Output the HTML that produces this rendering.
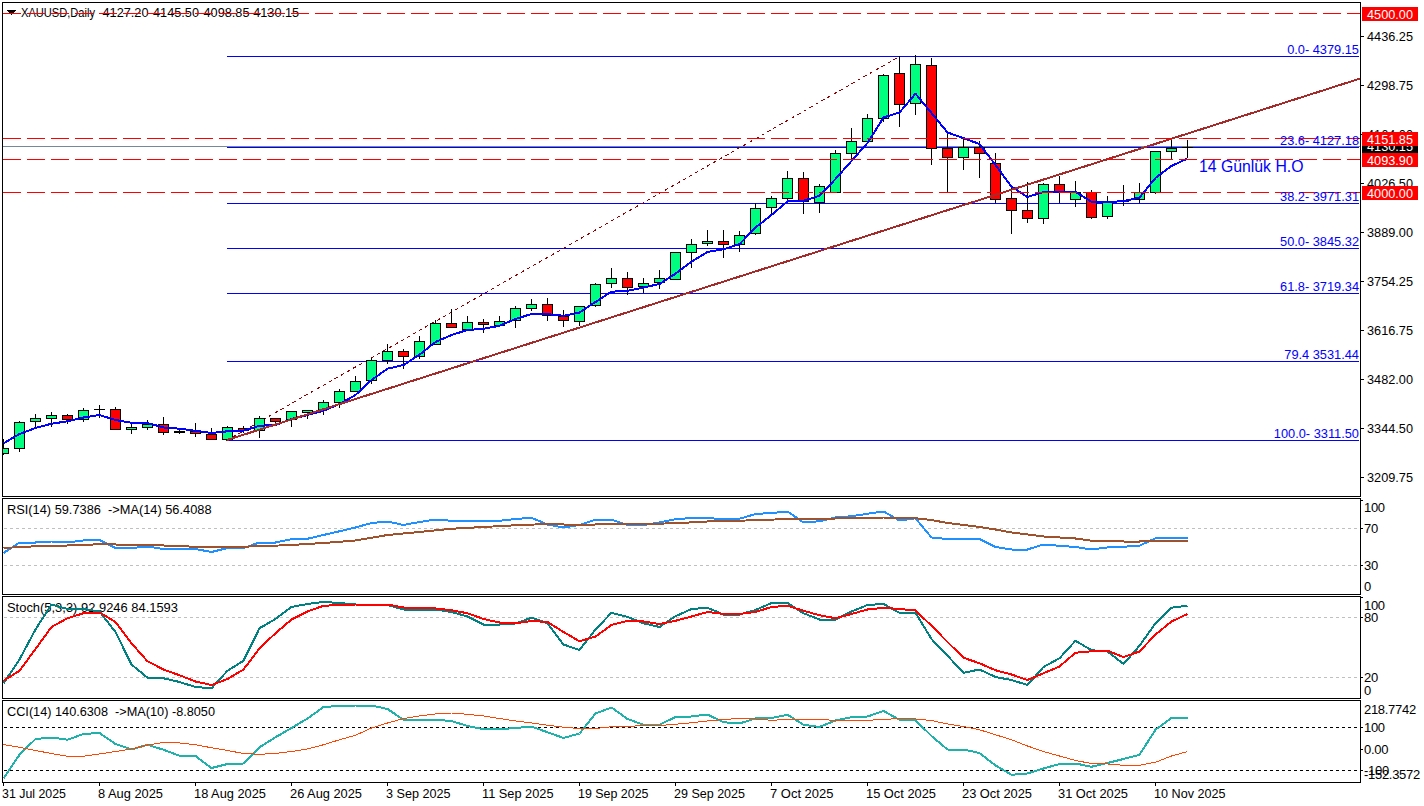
<!DOCTYPE html><html><head><meta charset="utf-8"><title>XAUUSD Daily</title>
<style>html,body{margin:0;padding:0;background:#fff;overflow:hidden}svg{display:block}text{font-family:"Liberation Sans",sans-serif;font-size:13px;fill:#000}.fib{font-size:12.8px;fill:#0000ff}.w{fill:#fff}.big{font-size:15.8px;fill:#0000ff}</style></head><body>
<svg width="1424" height="806" viewBox="0 0 1424 806">
<rect width="1424" height="806" fill="#fff"/>
<defs><clipPath id="cp"><rect x="3" y="0" width="1357" height="806"/></clipPath></defs>
<g shape-rendering="crispEdges">
<g clip-path="url(#cp)">
<path d="M6 10 L16 10 L11 15 Z" fill="#000"/>
<text x="21" y="17" xml:space="preserve" textLength="74" lengthAdjust="spacingAndGlyphs">XAUUSD,Daily</text>
<text x="102.5" y="17" xml:space="preserve" textLength="46" lengthAdjust="spacingAndGlyphs">4127.20</text>
<text x="153" y="17" xml:space="preserve" textLength="46" lengthAdjust="spacingAndGlyphs">4145.50</text>
<text x="203.5" y="17" xml:space="preserve" textLength="46" lengthAdjust="spacingAndGlyphs">4098.85</text>
<text x="253.2" y="17" xml:space="preserve" textLength="46" lengthAdjust="spacingAndGlyphs">4130.15</text>
<text x="7" y="514" xml:space="preserve" textLength="204.5" lengthAdjust="spacingAndGlyphs">RSI(14) 59.7386  -&gt;MA(14) 56.4088</text>
<text x="7" y="612" xml:space="preserve" textLength="171" lengthAdjust="spacingAndGlyphs">Stoch(5,3,3) 92.9246 84.1593</text>
<text x="7" y="716" xml:space="preserve" textLength="208" lengthAdjust="spacingAndGlyphs">CCI(14) 140.6308  -&gt;MA(10) -8.8050</text>
<line x1="227" y1="56.5" x2="1359" y2="56.5" stroke="#0000ff" stroke-width="1"/>
<line x1="227" y1="147.5" x2="1359" y2="147.5" stroke="#0000ff" stroke-width="1"/>
<line x1="227" y1="203.5" x2="1359" y2="203.5" stroke="#0000ff" stroke-width="1"/>
<line x1="227" y1="248.5" x2="1359" y2="248.5" stroke="#0000ff" stroke-width="1"/>
<line x1="227" y1="293.5" x2="1359" y2="293.5" stroke="#0000ff" stroke-width="1"/>
<line x1="227" y1="361.5" x2="1359" y2="361.5" stroke="#0000ff" stroke-width="1"/>
<line x1="227" y1="440.5" x2="1359" y2="440.5" stroke="#0000ff" stroke-width="1"/>
<line x1="3" y1="146.5" x2="1360" y2="146.5" stroke="#778899" stroke-width="1"/>
<line x1="226.5" y1="440.57" x2="899.5" y2="56.5" stroke="#900000" stroke-width="1" stroke-dasharray="3.46 3.46"/>
<rect x="3" y="439" width="1" height="16" fill="#000"/>
<rect x="-2" y="448" width="11" height="6" fill="#000"/>
<rect x="-1" y="449" width="9" height="4" fill="#00ff7f"/>
<rect x="19" y="421" width="1" height="31" fill="#000"/>
<rect x="14" y="422" width="11" height="27" fill="#000"/>
<rect x="15" y="423" width="9" height="25" fill="#00ff7f"/>
<rect x="35" y="414" width="1" height="13" fill="#000"/>
<rect x="30" y="418" width="11" height="4" fill="#000"/>
<rect x="31" y="419" width="9" height="2" fill="#00ff7f"/>
<rect x="51" y="412" width="1" height="15" fill="#000"/>
<rect x="46" y="415" width="11" height="4" fill="#000"/>
<rect x="47" y="416" width="9" height="2" fill="#00ff7f"/>
<rect x="67" y="414" width="1" height="10" fill="#000"/>
<rect x="62" y="415" width="11" height="5" fill="#000"/>
<rect x="63" y="416" width="9" height="3" fill="#ff0000"/>
<rect x="83" y="408" width="1" height="14" fill="#000"/>
<rect x="78" y="410" width="11" height="10" fill="#000"/>
<rect x="79" y="411" width="9" height="8" fill="#00ff7f"/>
<rect x="99" y="405" width="1" height="13" fill="#000"/>
<rect x="94" y="409" width="11" height="1" fill="#000"/>
<rect x="115" y="407" width="1" height="23" fill="#000"/>
<rect x="110" y="409" width="11" height="21" fill="#000"/>
<rect x="111" y="410" width="9" height="19" fill="#ff0000"/>
<rect x="131" y="424" width="1" height="10" fill="#000"/>
<rect x="126" y="427" width="11" height="3" fill="#000"/>
<rect x="127" y="428" width="9" height="1" fill="#00ff7f"/>
<rect x="147" y="420" width="1" height="10" fill="#000"/>
<rect x="142" y="424" width="11" height="4" fill="#000"/>
<rect x="143" y="425" width="9" height="2" fill="#00ff7f"/>
<rect x="163" y="417" width="1" height="18" fill="#000"/>
<rect x="158" y="424" width="11" height="9" fill="#000"/>
<rect x="159" y="425" width="9" height="7" fill="#ff0000"/>
<rect x="179" y="430" width="1" height="4" fill="#000"/>
<rect x="174" y="431" width="11" height="2" fill="#000"/>
<rect x="195" y="423" width="1" height="14" fill="#000"/>
<rect x="190" y="431" width="11" height="3" fill="#000"/>
<rect x="191" y="432" width="9" height="1" fill="#ff0000"/>
<rect x="211" y="428" width="1" height="12" fill="#000"/>
<rect x="206" y="434" width="11" height="6" fill="#000"/>
<rect x="207" y="435" width="9" height="4" fill="#ff0000"/>
<rect x="227" y="426" width="1" height="14" fill="#000"/>
<rect x="222" y="427" width="11" height="13" fill="#000"/>
<rect x="223" y="428" width="9" height="11" fill="#00ff7f"/>
<rect x="243" y="426" width="1" height="7" fill="#000"/>
<rect x="238" y="428" width="11" height="3" fill="#000"/>
<rect x="239" y="429" width="9" height="1" fill="#ff0000"/>
<rect x="259" y="416" width="1" height="22" fill="#000"/>
<rect x="254" y="418" width="11" height="13" fill="#000"/>
<rect x="255" y="419" width="9" height="11" fill="#00ff7f"/>
<rect x="275" y="418" width="1" height="6" fill="#000"/>
<rect x="270" y="418" width="11" height="4" fill="#000"/>
<rect x="271" y="419" width="9" height="2" fill="#ff0000"/>
<rect x="291" y="411" width="1" height="16" fill="#000"/>
<rect x="286" y="411" width="11" height="9" fill="#000"/>
<rect x="287" y="412" width="9" height="7" fill="#00ff7f"/>
<rect x="307" y="410" width="1" height="9" fill="#000"/>
<rect x="302" y="410" width="11" height="3" fill="#000"/>
<rect x="303" y="411" width="9" height="1" fill="#00ff7f"/>
<rect x="323" y="400" width="1" height="15" fill="#000"/>
<rect x="318" y="402" width="11" height="8" fill="#000"/>
<rect x="319" y="403" width="9" height="6" fill="#00ff7f"/>
<rect x="339" y="389" width="1" height="19" fill="#000"/>
<rect x="334" y="391" width="11" height="12" fill="#000"/>
<rect x="335" y="392" width="9" height="10" fill="#00ff7f"/>
<rect x="355" y="376" width="1" height="16" fill="#000"/>
<rect x="350" y="381" width="11" height="11" fill="#000"/>
<rect x="351" y="382" width="9" height="9" fill="#00ff7f"/>
<rect x="371" y="358" width="1" height="26" fill="#000"/>
<rect x="366" y="360" width="11" height="21" fill="#000"/>
<rect x="367" y="361" width="9" height="19" fill="#00ff7f"/>
<rect x="387" y="344" width="1" height="20" fill="#000"/>
<rect x="382" y="351" width="11" height="10" fill="#000"/>
<rect x="383" y="352" width="9" height="8" fill="#00ff7f"/>
<rect x="403" y="349" width="1" height="20" fill="#000"/>
<rect x="398" y="351" width="11" height="6" fill="#000"/>
<rect x="399" y="352" width="9" height="4" fill="#ff0000"/>
<rect x="419" y="336" width="1" height="23" fill="#000"/>
<rect x="414" y="341" width="11" height="16" fill="#000"/>
<rect x="415" y="342" width="9" height="14" fill="#00ff7f"/>
<rect x="435" y="320" width="1" height="25" fill="#000"/>
<rect x="430" y="323" width="11" height="22" fill="#000"/>
<rect x="431" y="324" width="9" height="20" fill="#00ff7f"/>
<rect x="451" y="309" width="1" height="19" fill="#000"/>
<rect x="446" y="323" width="11" height="5" fill="#000"/>
<rect x="447" y="324" width="9" height="3" fill="#ff0000"/>
<rect x="467" y="316" width="1" height="14" fill="#000"/>
<rect x="462" y="322" width="11" height="8" fill="#000"/>
<rect x="463" y="323" width="9" height="6" fill="#00ff7f"/>
<rect x="483" y="319" width="1" height="14" fill="#000"/>
<rect x="478" y="322" width="11" height="3" fill="#000"/>
<rect x="479" y="323" width="9" height="1" fill="#ff0000"/>
<rect x="499" y="316" width="1" height="10" fill="#000"/>
<rect x="494" y="321" width="11" height="5" fill="#000"/>
<rect x="495" y="322" width="9" height="3" fill="#00ff7f"/>
<rect x="515" y="306" width="1" height="22" fill="#000"/>
<rect x="510" y="308" width="11" height="13" fill="#000"/>
<rect x="511" y="309" width="9" height="11" fill="#00ff7f"/>
<rect x="531" y="299" width="1" height="12" fill="#000"/>
<rect x="526" y="304" width="11" height="5" fill="#000"/>
<rect x="527" y="305" width="9" height="3" fill="#00ff7f"/>
<rect x="547" y="298" width="1" height="23" fill="#000"/>
<rect x="542" y="304" width="11" height="12" fill="#000"/>
<rect x="543" y="305" width="9" height="10" fill="#ff0000"/>
<rect x="563" y="310" width="1" height="17" fill="#000"/>
<rect x="558" y="316" width="11" height="5" fill="#000"/>
<rect x="559" y="317" width="9" height="3" fill="#ff0000"/>
<rect x="579" y="306" width="1" height="20" fill="#000"/>
<rect x="574" y="306" width="11" height="16" fill="#000"/>
<rect x="575" y="307" width="9" height="14" fill="#00ff7f"/>
<rect x="595" y="283" width="1" height="24" fill="#000"/>
<rect x="590" y="284" width="11" height="22" fill="#000"/>
<rect x="591" y="285" width="9" height="20" fill="#00ff7f"/>
<rect x="611" y="268" width="1" height="20" fill="#000"/>
<rect x="606" y="278" width="11" height="6" fill="#000"/>
<rect x="607" y="279" width="9" height="4" fill="#00ff7f"/>
<rect x="627" y="272" width="1" height="23" fill="#000"/>
<rect x="622" y="278" width="11" height="10" fill="#000"/>
<rect x="623" y="279" width="9" height="8" fill="#ff0000"/>
<rect x="643" y="278" width="1" height="15" fill="#000"/>
<rect x="638" y="283" width="11" height="4" fill="#000"/>
<rect x="639" y="284" width="9" height="2" fill="#00ff7f"/>
<rect x="659" y="270" width="1" height="19" fill="#000"/>
<rect x="654" y="278" width="11" height="5" fill="#000"/>
<rect x="655" y="279" width="9" height="3" fill="#00ff7f"/>
<rect x="675" y="252" width="1" height="28" fill="#000"/>
<rect x="670" y="252" width="11" height="28" fill="#000"/>
<rect x="671" y="253" width="9" height="26" fill="#00ff7f"/>
<rect x="691" y="239" width="1" height="29" fill="#000"/>
<rect x="686" y="244" width="11" height="9" fill="#000"/>
<rect x="687" y="245" width="9" height="7" fill="#00ff7f"/>
<rect x="707" y="230" width="1" height="16" fill="#000"/>
<rect x="702" y="241" width="11" height="3" fill="#000"/>
<rect x="703" y="242" width="9" height="1" fill="#00ff7f"/>
<rect x="723" y="230" width="1" height="28" fill="#000"/>
<rect x="718" y="241" width="11" height="4" fill="#000"/>
<rect x="719" y="242" width="9" height="2" fill="#ff0000"/>
<rect x="739" y="231" width="1" height="21" fill="#000"/>
<rect x="734" y="235" width="11" height="10" fill="#000"/>
<rect x="735" y="236" width="9" height="8" fill="#00ff7f"/>
<rect x="755" y="203" width="1" height="32" fill="#000"/>
<rect x="750" y="208" width="11" height="26" fill="#000"/>
<rect x="751" y="209" width="9" height="24" fill="#00ff7f"/>
<rect x="771" y="196" width="1" height="19" fill="#000"/>
<rect x="766" y="198" width="11" height="10" fill="#000"/>
<rect x="767" y="199" width="9" height="8" fill="#00ff7f"/>
<rect x="787" y="171" width="1" height="29" fill="#000"/>
<rect x="782" y="178" width="11" height="21" fill="#000"/>
<rect x="783" y="179" width="9" height="19" fill="#00ff7f"/>
<rect x="803" y="172" width="1" height="42" fill="#000"/>
<rect x="798" y="178" width="11" height="24" fill="#000"/>
<rect x="799" y="179" width="9" height="22" fill="#ff0000"/>
<rect x="819" y="184" width="1" height="29" fill="#000"/>
<rect x="814" y="186" width="11" height="17" fill="#000"/>
<rect x="815" y="187" width="9" height="15" fill="#00ff7f"/>
<rect x="835" y="150" width="1" height="43" fill="#000"/>
<rect x="830" y="153" width="11" height="40" fill="#000"/>
<rect x="831" y="154" width="9" height="38" fill="#00ff7f"/>
<rect x="851" y="128" width="1" height="33" fill="#000"/>
<rect x="846" y="141" width="11" height="13" fill="#000"/>
<rect x="847" y="142" width="9" height="11" fill="#00ff7f"/>
<rect x="867" y="114" width="1" height="28" fill="#000"/>
<rect x="862" y="118" width="11" height="24" fill="#000"/>
<rect x="863" y="119" width="9" height="22" fill="#00ff7f"/>
<rect x="883" y="74" width="1" height="48" fill="#000"/>
<rect x="878" y="75" width="11" height="44" fill="#000"/>
<rect x="879" y="76" width="9" height="42" fill="#00ff7f"/>
<rect x="899" y="56" width="1" height="71" fill="#000"/>
<rect x="894" y="73" width="11" height="32" fill="#000"/>
<rect x="895" y="74" width="9" height="30" fill="#ff0000"/>
<rect x="915" y="55" width="1" height="60" fill="#000"/>
<rect x="910" y="64" width="11" height="40" fill="#000"/>
<rect x="911" y="65" width="9" height="38" fill="#00ff7f"/>
<rect x="931" y="58" width="1" height="107" fill="#000"/>
<rect x="926" y="65" width="11" height="84" fill="#000"/>
<rect x="927" y="66" width="9" height="82" fill="#ff0000"/>
<rect x="947" y="133" width="1" height="59" fill="#000"/>
<rect x="942" y="148" width="11" height="10" fill="#000"/>
<rect x="943" y="149" width="9" height="8" fill="#ff0000"/>
<rect x="963" y="138" width="1" height="32" fill="#000"/>
<rect x="958" y="147" width="11" height="11" fill="#000"/>
<rect x="959" y="148" width="9" height="9" fill="#00ff7f"/>
<rect x="979" y="141" width="1" height="37" fill="#000"/>
<rect x="974" y="147" width="11" height="7" fill="#000"/>
<rect x="975" y="148" width="9" height="5" fill="#ff0000"/>
<rect x="995" y="153" width="1" height="50" fill="#000"/>
<rect x="990" y="163" width="11" height="37" fill="#000"/>
<rect x="991" y="164" width="9" height="35" fill="#ff0000"/>
<rect x="1011" y="186" width="1" height="48" fill="#000"/>
<rect x="1006" y="198" width="11" height="13" fill="#000"/>
<rect x="1007" y="199" width="9" height="11" fill="#ff0000"/>
<rect x="1027" y="182" width="1" height="41" fill="#000"/>
<rect x="1022" y="210" width="11" height="9" fill="#000"/>
<rect x="1023" y="211" width="9" height="7" fill="#ff0000"/>
<rect x="1043" y="183" width="1" height="41" fill="#000"/>
<rect x="1038" y="184" width="11" height="35" fill="#000"/>
<rect x="1039" y="185" width="9" height="33" fill="#00ff7f"/>
<rect x="1059" y="176" width="1" height="27" fill="#000"/>
<rect x="1054" y="184" width="11" height="8" fill="#000"/>
<rect x="1055" y="185" width="9" height="6" fill="#ff0000"/>
<rect x="1075" y="181" width="1" height="26" fill="#000"/>
<rect x="1070" y="192" width="11" height="8" fill="#000"/>
<rect x="1071" y="193" width="9" height="6" fill="#00ff7f"/>
<rect x="1091" y="190" width="1" height="29" fill="#000"/>
<rect x="1086" y="192" width="11" height="26" fill="#000"/>
<rect x="1087" y="193" width="9" height="24" fill="#ff0000"/>
<rect x="1107" y="196" width="1" height="23" fill="#000"/>
<rect x="1102" y="201" width="11" height="16" fill="#000"/>
<rect x="1103" y="202" width="9" height="14" fill="#00ff7f"/>
<rect x="1123" y="185" width="1" height="21" fill="#000"/>
<rect x="1118" y="201" width="11" height="1" fill="#000"/>
<rect x="1139" y="183" width="1" height="20" fill="#000"/>
<rect x="1134" y="192" width="11" height="8" fill="#000"/>
<rect x="1135" y="193" width="9" height="6" fill="#00ff7f"/>
<rect x="1155" y="151" width="1" height="43" fill="#000"/>
<rect x="1150" y="151" width="11" height="42" fill="#000"/>
<rect x="1151" y="152" width="9" height="40" fill="#00ff7f"/>
<rect x="1171" y="138" width="1" height="21" fill="#000"/>
<rect x="1166" y="148" width="11" height="4" fill="#000"/>
<rect x="1167" y="149" width="9" height="2" fill="#00ff7f"/>
<rect x="1187" y="140" width="1" height="18" fill="#000"/>
<rect x="1182" y="147" width="11" height="1" fill="#000"/>
<polyline points="3.5,443.30 19.5,434.00 35.5,428.00 51.5,423.70 67.5,421.30 83.5,417.50 99.5,415.00 115.5,420.00 131.5,422.80 147.5,423.00 163.5,427.50 179.5,428.70 195.5,430.80 211.5,433.00 227.5,431.30 243.5,430.70 259.5,425.80 275.5,425.00 291.5,419.00 307.5,415.00 323.5,410.80 339.5,404.00 355.5,395.00 371.5,380.00 387.5,368.70 403.5,365.00 419.5,354.70 435.5,342.00 451.5,335.00 467.5,330.00 483.5,328.80 499.5,325.80 515.5,319.00 531.5,314.00 547.5,314.20 563.5,315.80 579.5,312.50 595.5,302.00 611.5,291.70 627.5,290.80 643.5,287.50 659.5,284.00 675.5,273.70 691.5,261.70 707.5,252.00 723.5,249.20 739.5,244.20 755.5,227.50 771.5,215.00 787.5,201.30 803.5,200.80 819.5,195.80 835.5,179.00 851.5,161.00 867.5,143.00 883.5,117.50 899.5,112.50 915.5,93.70 931.5,113.00 947.5,132.50 963.5,138.20 979.5,144.00 995.5,165.00 1011.5,186.70 1027.5,197.00 1043.5,192.00 1059.5,192.00 1075.5,192.00 1091.5,201.70 1107.5,202.00 1123.5,201.20 1139.5,197.50 1155.5,178.00 1171.5,166.00 1187.5,158.50" fill="none" stroke="#0000ff" stroke-width="2" stroke-linejoin="bevel"/>
<line x1="227" y1="440" x2="1360" y2="78.6" stroke="#a52a2a" stroke-width="2"/>
<line x1="3" y1="13.5" x2="1360" y2="13.5" stroke="#ff0000" stroke-width="1" stroke-dasharray="18 6"/>
<line x1="3" y1="138.5" x2="1360" y2="138.5" stroke="#ff0000" stroke-width="1" stroke-dasharray="18 6"/>
<line x1="3" y1="159.5" x2="1360" y2="159.5" stroke="#ff0000" stroke-width="1" stroke-dasharray="18 6"/>
<line x1="3" y1="192.5" x2="1360" y2="192.5" stroke="#ff0000" stroke-width="1" stroke-dasharray="18 6"/>
<line x1="4" y1="528.5" x2="1360" y2="528.5" stroke="#c0c0c0" stroke-width="1" stroke-dasharray="3 3"/>
<line x1="4" y1="565.5" x2="1360" y2="565.5" stroke="#c0c0c0" stroke-width="1" stroke-dasharray="3 3"/>
<line x1="4" y1="617.5" x2="1360" y2="617.5" stroke="#c0c0c0" stroke-width="1" stroke-dasharray="3 3"/>
<line x1="4" y1="677.5" x2="1360" y2="677.5" stroke="#c0c0c0" stroke-width="1" stroke-dasharray="3 3"/>
<line x1="4" y1="727.5" x2="1360" y2="727.5" stroke="#000" stroke-width="1" stroke-dasharray="3 3"/>
<line x1="4" y1="770.5" x2="1360" y2="770.5" stroke="#000" stroke-width="1" stroke-dasharray="3 3"/>
<polyline points="3.5,553.00 19.5,542.50 35.5,542.50 51.5,541.50 67.5,542.50 83.5,540.50 99.5,540.00 115.5,548.00 131.5,548.00 147.5,546.50 163.5,549.00 179.5,549.00 195.5,549.00 211.5,552.00 227.5,548.00 243.5,548.00 259.5,542.50 275.5,542.50 291.5,539.25 307.5,538.75 323.5,535.00 339.5,531.25 355.5,527.50 371.5,523.00 387.5,521.50 403.5,525.00 419.5,522.00 435.5,519.50 451.5,520.75 467.5,520.75 483.5,520.75 499.5,520.75 515.5,519.00 531.5,517.75 547.5,524.50 563.5,527.50 579.5,525.00 595.5,519.75 611.5,519.75 627.5,525.00 643.5,525.00 659.5,522.50 675.5,519.25 691.5,518.00 707.5,518.00 723.5,519.25 739.5,518.75 755.5,514.00 771.5,513.00 787.5,511.50 803.5,522.50 819.5,521.25 835.5,517.50 851.5,516.25 867.5,513.75 883.5,511.50 899.5,520.50 915.5,518.25 931.5,537.50 947.5,539.00 963.5,539.00 979.5,539.00 995.5,547.00 1011.5,549.50 1027.5,549.50 1043.5,544.50 1059.5,545.75 1075.5,547.00 1091.5,549.50 1107.5,547.50 1123.5,546.75 1139.5,545.75 1155.5,538.25 1171.5,538.25 1187.5,538.25" fill="none" stroke="#1e90ff" stroke-width="2" stroke-linejoin="bevel"/>
<polyline points="3.5,548.00 35.5,546.25 67.5,545.50 99.5,544.25 131.5,544.75 163.5,545.50 195.5,546.75 227.5,547.00 259.5,546.25 291.5,545.00 323.5,543.00 355.5,540.50 387.5,535.00 419.5,532.00 451.5,528.75 483.5,527.00 515.5,525.25 547.5,524.00 579.5,525.00 611.5,524.00 643.5,524.00 675.5,523.25 707.5,521.50 755.5,520.25 787.5,519.00 819.5,519.00 851.5,518.00 883.5,517.50 915.5,518.25 931.5,520.00 947.5,523.00 963.5,525.00 979.5,527.00 995.5,529.50 1011.5,532.50 1027.5,534.50 1043.5,536.50 1059.5,537.50 1075.5,538.50 1091.5,540.75 1107.5,540.75 1123.5,541.50 1139.5,541.50 1155.5,540.75 1171.5,540.75 1187.5,540.75" fill="none" stroke="#a0522d" stroke-width="2" stroke-linejoin="bevel"/>
<polyline points="3.5,683.25 19.5,659.50 35.5,629.50 51.5,604.50 67.5,609.00 83.5,609.00 99.5,611.50 115.5,632.00 131.5,664.50 147.5,677.75 163.5,678.25 179.5,682.00 195.5,687.00 211.5,688.25 227.5,670.75 243.5,660.75 259.5,628.25 275.5,619.00 291.5,607.00 307.5,604.00 323.5,602.00 339.5,603.00 355.5,604.50 371.5,604.50 387.5,605.00 403.5,609.50 419.5,609.50 435.5,609.50 451.5,612.00 467.5,616.50 483.5,624.50 499.5,624.50 515.5,623.50 531.5,617.75 547.5,623.25 563.5,644.50 579.5,650.00 595.5,629.50 611.5,612.75 627.5,617.00 643.5,623.25 659.5,627.00 675.5,616.25 691.5,609.00 707.5,607.75 723.5,614.50 739.5,614.50 755.5,610.00 771.5,603.00 787.5,603.00 803.5,613.25 819.5,619.50 835.5,619.50 851.5,611.50 867.5,605.00 883.5,604.00 899.5,612.75 915.5,612.75 931.5,639.00 947.5,655.75 963.5,672.75 979.5,669.50 995.5,677.00 1011.5,680.00 1027.5,685.00 1043.5,667.00 1059.5,658.25 1075.5,640.75 1091.5,650.25 1107.5,651.50 1123.5,664.00 1139.5,645.75 1155.5,623.25 1171.5,607.75 1187.5,605.75" fill="none" stroke="#008080" stroke-width="2" stroke-linejoin="bevel"/>
<polyline points="3.5,680.75 19.5,670.75 35.5,649.00 51.5,627.00 67.5,618.25 83.5,613.25 99.5,612.50 115.5,622.00 131.5,643.25 147.5,661.25 163.5,669.50 179.5,675.25 195.5,681.50 211.5,685.00 227.5,679.00 243.5,669.50 259.5,648.25 275.5,633.25 291.5,619.50 307.5,611.50 323.5,605.75 339.5,605.00 355.5,604.50 371.5,604.50 387.5,604.50 403.5,607.50 419.5,608.00 435.5,608.50 451.5,610.25 467.5,613.25 483.5,619.00 499.5,622.50 515.5,623.25 531.5,621.00 547.5,622.00 563.5,632.00 579.5,641.25 595.5,636.50 611.5,625.00 627.5,620.75 643.5,621.50 659.5,624.00 675.5,620.75 691.5,616.50 707.5,612.00 723.5,614.00 739.5,614.00 755.5,612.00 771.5,607.00 787.5,605.75 803.5,610.75 819.5,615.25 835.5,618.25 851.5,614.00 867.5,609.50 883.5,607.75 899.5,609.00 915.5,610.50 931.5,625.75 947.5,642.00 963.5,657.75 979.5,663.25 995.5,670.25 1011.5,674.50 1027.5,680.00 1043.5,673.25 1059.5,666.50 1075.5,652.75 1091.5,651.25 1107.5,650.75 1123.5,657.00 1139.5,651.50 1155.5,634.50 1171.5,621.50 1187.5,614.00" fill="none" stroke="#ff0000" stroke-width="2" stroke-linejoin="bevel"/>
<polyline points="3.5,778.50 19.5,754.75 35.5,739.00 51.5,737.50 67.5,739.75 83.5,734.00 99.5,733.00 115.5,744.00 131.5,749.50 147.5,744.75 163.5,749.75 179.5,755.75 195.5,756.00 211.5,768.00 227.5,764.00 243.5,763.50 259.5,747.25 275.5,737.25 291.5,728.00 307.5,718.50 323.5,707.00 339.5,706.00 355.5,705.50 371.5,705.50 387.5,709.00 403.5,719.75 419.5,719.75 435.5,719.75 451.5,721.00 467.5,726.00 483.5,729.25 499.5,729.25 515.5,728.00 531.5,726.50 547.5,732.25 563.5,738.00 579.5,733.50 595.5,713.50 611.5,707.50 627.5,719.00 643.5,724.75 659.5,724.75 675.5,717.00 691.5,716.50 707.5,714.50 723.5,722.25 739.5,723.50 755.5,718.50 771.5,718.00 787.5,714.75 803.5,724.75 819.5,727.00 835.5,720.50 851.5,717.25 867.5,716.50 883.5,711.00 899.5,719.75 915.5,720.25 931.5,736.00 947.5,749.50 963.5,749.50 979.5,753.00 995.5,765.50 1011.5,774.75 1027.5,773.50 1043.5,768.50 1059.5,764.00 1075.5,763.50 1091.5,766.75 1107.5,763.00 1123.5,759.00 1139.5,754.75 1155.5,729.75 1171.5,718.00 1187.5,718.00" fill="none" stroke="#20b2aa" stroke-width="2" stroke-linejoin="bevel"/>
<polyline points="3.5,744.50 19.5,747.25 35.5,750.50 51.5,753.50 67.5,756.25 83.5,756.25 99.5,754.00 115.5,751.50 131.5,749.00 147.5,745.00 163.5,742.50 179.5,743.00 195.5,744.75 211.5,747.75 227.5,750.50 243.5,753.50 259.5,754.25 275.5,753.50 291.5,751.50 307.5,749.00 323.5,744.75 339.5,739.75 355.5,735.25 371.5,728.00 387.5,723.00 403.5,718.50 419.5,716.00 435.5,714.00 451.5,713.00 467.5,714.25 483.5,716.00 499.5,718.50 515.5,721.00 531.5,723.00 547.5,725.25 563.5,727.25 579.5,728.50 595.5,728.50 611.5,726.75 627.5,726.50 643.5,725.50 659.5,725.50 675.5,724.25 691.5,722.75 707.5,721.00 723.5,719.50 739.5,718.50 755.5,719.00 771.5,720.25 787.5,719.50 803.5,719.25 819.5,719.25 835.5,720.50 851.5,720.25 867.5,720.25 883.5,719.50 899.5,718.50 915.5,719.00 931.5,720.50 947.5,724.00 963.5,726.50 979.5,729.75 995.5,734.75 1011.5,739.75 1027.5,746.00 1043.5,751.50 1059.5,756.00 1075.5,760.50 1091.5,763.50 1107.5,764.00 1123.5,765.25 1139.5,765.25 1155.5,762.25 1171.5,756.00 1187.5,751.50" fill="none" stroke="#ff4500" stroke-width="1" stroke-linejoin="bevel"/>
</g>
<rect x="2" y="2" width="1359" height="1" fill="#000"/>
<rect x="2" y="496" width="1359" height="1" fill="#000"/>
<rect x="2" y="2" width="1" height="495" fill="#000"/>
<rect x="1360" y="2" width="1" height="495" fill="#000"/>
<rect x="2" y="498" width="1359" height="1" fill="#000"/>
<rect x="2" y="594" width="1359" height="1" fill="#000"/>
<rect x="2" y="498" width="1" height="97" fill="#000"/>
<rect x="1360" y="498" width="1" height="97" fill="#000"/>
<rect x="2" y="596" width="1359" height="1" fill="#000"/>
<rect x="2" y="698" width="1359" height="1" fill="#000"/>
<rect x="2" y="596" width="1" height="103" fill="#000"/>
<rect x="1360" y="596" width="1" height="103" fill="#000"/>
<rect x="2" y="700" width="1359" height="1" fill="#000"/>
<rect x="2" y="782" width="1359" height="1" fill="#000"/>
<rect x="2" y="700" width="1" height="83" fill="#000"/>
<rect x="1360" y="700" width="1" height="83" fill="#000"/>
<rect x="1361" y="36" width="3" height="1" fill="#000"/>
<rect x="1361" y="85" width="3" height="1" fill="#000"/>
<rect x="1361" y="134" width="3" height="1" fill="#000"/>
<rect x="1361" y="183" width="3" height="1" fill="#000"/>
<rect x="1361" y="232" width="3" height="1" fill="#000"/>
<rect x="1361" y="281" width="3" height="1" fill="#000"/>
<rect x="1361" y="330" width="3" height="1" fill="#000"/>
<rect x="1361" y="379" width="3" height="1" fill="#000"/>
<rect x="1361" y="428" width="3" height="1" fill="#000"/>
<rect x="1361" y="477" width="3" height="1" fill="#000"/>
<rect x="1361" y="500" width="2" height="1" fill="#000"/>
<rect x="1361" y="528" width="2" height="1" fill="#000"/>
<rect x="1361" y="565" width="2" height="1" fill="#000"/>
<rect x="1361" y="597" width="2" height="1" fill="#000"/>
<rect x="1361" y="617" width="2" height="1" fill="#000"/>
<rect x="1361" y="677" width="2" height="1" fill="#000"/>
<rect x="1361" y="727" width="2" height="1" fill="#000"/>
<rect x="1361" y="749" width="2" height="1" fill="#000"/>
<rect x="1361" y="770" width="2" height="1" fill="#000"/>
<rect x="3" y="783" width="1" height="3" fill="#000"/>
<rect x="99" y="783" width="1" height="3" fill="#000"/>
<rect x="195" y="783" width="1" height="3" fill="#000"/>
<rect x="291" y="783" width="1" height="3" fill="#000"/>
<rect x="387" y="783" width="1" height="3" fill="#000"/>
<rect x="483" y="783" width="1" height="3" fill="#000"/>
<rect x="579" y="783" width="1" height="3" fill="#000"/>
<rect x="675" y="783" width="1" height="3" fill="#000"/>
<rect x="771" y="783" width="1" height="3" fill="#000"/>
<rect x="867" y="783" width="1" height="3" fill="#000"/>
<rect x="963" y="783" width="1" height="3" fill="#000"/>
<rect x="1059" y="783" width="1" height="3" fill="#000"/>
<rect x="1155" y="783" width="1" height="3" fill="#000"/>
<rect x="1362" y="140" width="56" height="14" fill="#000"/>
</g>
<text x="1367" y="41" xml:space="preserve" textLength="46" lengthAdjust="spacingAndGlyphs">4436.25</text>
<text x="1367" y="90" xml:space="preserve" textLength="46" lengthAdjust="spacingAndGlyphs">4298.75</text>
<text x="1367" y="139" xml:space="preserve" textLength="46" lengthAdjust="spacingAndGlyphs">4164.00</text>
<text x="1367" y="188" xml:space="preserve" textLength="46" lengthAdjust="spacingAndGlyphs">4026.50</text>
<text x="1367" y="237" xml:space="preserve" textLength="46" lengthAdjust="spacingAndGlyphs">3889.00</text>
<text x="1367" y="286" xml:space="preserve" textLength="46" lengthAdjust="spacingAndGlyphs">3754.25</text>
<text x="1367" y="335" xml:space="preserve" textLength="46" lengthAdjust="spacingAndGlyphs">3616.75</text>
<text x="1367" y="384" xml:space="preserve" textLength="46" lengthAdjust="spacingAndGlyphs">3482.00</text>
<text x="1367" y="433" xml:space="preserve" textLength="46" lengthAdjust="spacingAndGlyphs">3344.50</text>
<text x="1367" y="482" xml:space="preserve" textLength="46" lengthAdjust="spacingAndGlyphs">3209.75</text>
<text x="1367" y="151" xml:space="preserve" class="w" textLength="46" lengthAdjust="spacingAndGlyphs">4130.15</text>
<g shape-rendering="crispEdges">
<rect x="1362" y="7" width="56" height="14" fill="#ff0000"/>
<rect x="1362" y="132" width="56" height="14" fill="#ff0000"/>
<rect x="1362" y="153" width="56" height="14" fill="#ff0000"/>
<rect x="1362" y="186" width="56" height="14" fill="#ff0000"/>
</g>
<text x="1367" y="19" xml:space="preserve" class="w" textLength="46" lengthAdjust="spacingAndGlyphs">4500.00</text>
<text x="1367" y="144" xml:space="preserve" class="w" textLength="46" lengthAdjust="spacingAndGlyphs">4151.85</text>
<text x="1367" y="165" xml:space="preserve" class="w" textLength="46" lengthAdjust="spacingAndGlyphs">4093.90</text>
<text x="1367" y="198" xml:space="preserve" class="w" textLength="46" lengthAdjust="spacingAndGlyphs">4000.00</text>
<text x="1359" y="54" xml:space="preserve" class="fib" text-anchor="end">0.0- 4379.15</text>
<text x="1359" y="145" xml:space="preserve" class="fib" text-anchor="end">23.6- 4127.18</text>
<text x="1359" y="201" xml:space="preserve" class="fib" text-anchor="end">38.2- 3971.31</text>
<text x="1359" y="246" xml:space="preserve" class="fib" text-anchor="end">50.0- 3845.32</text>
<text x="1359" y="291" xml:space="preserve" class="fib" text-anchor="end">61.8- 3719.34</text>
<text x="1359" y="359" xml:space="preserve" class="fib" text-anchor="end">79.4 3531.44</text>
<text x="1359" y="438" xml:space="preserve" class="fib" text-anchor="end">100.0- 3311.50</text>
<text x="1199" y="172" xml:space="preserve" class="big">14 Günlük H.O</text>
<text x="1364" y="512" style="letter-spacing:-0.3px">100</text>
<text x="1364" y="533" style="letter-spacing:-0.3px">70</text>
<text x="1364" y="570" style="letter-spacing:-0.3px">30</text>
<text x="1364" y="591" style="letter-spacing:-0.3px">0</text>
<text x="1364" y="610" style="letter-spacing:-0.3px">100</text>
<text x="1364" y="622" style="letter-spacing:-0.3px">80</text>
<text x="1364" y="682" style="letter-spacing:-0.3px">20</text>
<text x="1364" y="695" style="letter-spacing:-0.3px">0</text>
<text x="1364" y="714" style="letter-spacing:-0.3px">218.7742</text>
<text x="1364" y="732" style="letter-spacing:-0.3px">100</text>
<text x="1364" y="754" style="letter-spacing:-0.3px">0.00</text>
<text x="1364" y="775" style="letter-spacing:-0.3px">-100</text>
<text x="1364" y="779" style="letter-spacing:-0.3px">-152.3572</text>
<text x="2" y="798" xml:space="preserve" textLength="64" lengthAdjust="spacingAndGlyphs">31 Jul 2025</text>
<text x="98" y="798" xml:space="preserve" textLength="65" lengthAdjust="spacingAndGlyphs">8 Aug 2025</text>
<text x="194" y="798" xml:space="preserve" textLength="72" lengthAdjust="spacingAndGlyphs">18 Aug 2025</text>
<text x="290" y="798" xml:space="preserve" textLength="72" lengthAdjust="spacingAndGlyphs">26 Aug 2025</text>
<text x="386" y="798" xml:space="preserve" textLength="64.5" lengthAdjust="spacingAndGlyphs">3 Sep 2025</text>
<text x="482" y="798" xml:space="preserve" textLength="71.5" lengthAdjust="spacingAndGlyphs">11 Sep 2025</text>
<text x="578" y="798" xml:space="preserve" textLength="70.5" lengthAdjust="spacingAndGlyphs">19 Sep 2025</text>
<text x="674" y="798" xml:space="preserve" textLength="71" lengthAdjust="spacingAndGlyphs">29 Sep 2025</text>
<text x="770" y="798" xml:space="preserve" textLength="63.5" lengthAdjust="spacingAndGlyphs">7 Oct 2025</text>
<text x="866" y="798" xml:space="preserve" textLength="70" lengthAdjust="spacingAndGlyphs">15 Oct 2025</text>
<text x="962" y="798" xml:space="preserve" textLength="70" lengthAdjust="spacingAndGlyphs">23 Oct 2025</text>
<text x="1058" y="798" xml:space="preserve" textLength="70" lengthAdjust="spacingAndGlyphs">31 Oct 2025</text>
<text x="1154" y="798" xml:space="preserve" textLength="71.5" lengthAdjust="spacingAndGlyphs">10 Nov 2025</text>
</svg></body></html>
